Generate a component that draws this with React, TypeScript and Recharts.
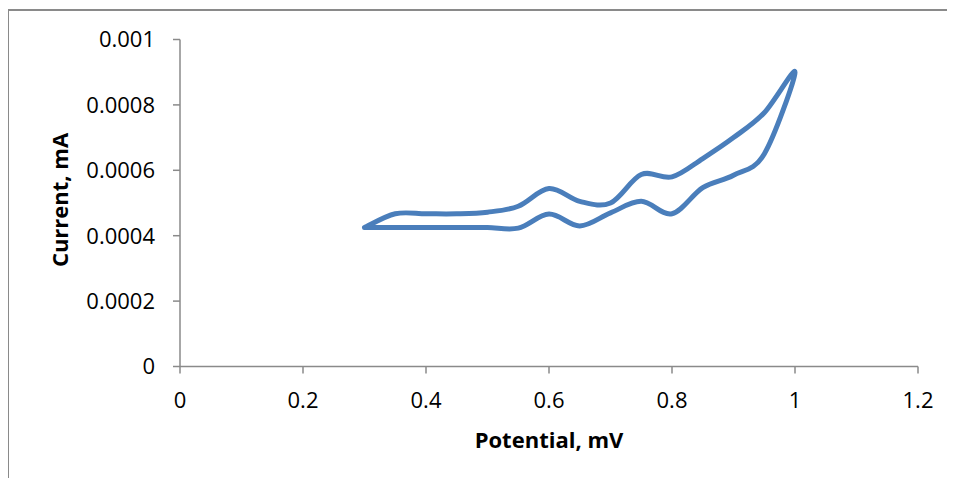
import { CartesianGrid, Label, Line, LineChart, XAxis, YAxis } from "recharts"

// forward sweep 0.3 -> 1.0, then reverse sweep back to 0.3
const potential = [
  0.3, 0.35, 0.4, 0.45, 0.5, 0.55, 0.6, 0.65, 0.7, 0.75, 0.8, 0.85, 0.9, 0.95, 1.0,
  0.95, 0.9, 0.85, 0.8, 0.75, 0.7, 0.65, 0.6, 0.55, 0.5, 0.45, 0.4, 0.35, 0.3,
]
const current = [
  0.000425, 0.000425, 0.000425, 0.000425, 0.000425, 0.000423, 0.000466, 0.00043, 0.00047, 0.000505,
  0.000467, 0.000547, 0.000585, 0.00065, 0.0009,
  0.000776, 0.0007, 0.000636, 0.00058, 0.000587, 0.0005, 0.000505, 0.000544, 0.00049, 0.000472,
  0.000467, 0.000467, 0.000467, 0.000425,
]

const xTicks = [0, 0.2, 0.4, 0.6, 0.8, 1, 1.2]
const yTicks = [0, 0.0002, 0.0004, 0.0006, 0.0008, 0.001]

const data = potential.map((p, i) => ({ potential: p, current: current[i] }))

const FONT = "'Open Sans', sans-serif"
const AXIS = "#8a8a8a"

// Excel-like smoothed scatter line (Catmull-Rom through every point)
function excelSmooth(context: any) {
  let pts: number[][] = []
  return {
    areaStart() {},
    areaEnd() {},
    lineStart() {
      pts = []
    },
    point(x: number, y: number) {
      pts.push([+x, +y])
    },
    lineEnd() {
      const n = pts.length
      if (!n) return
      context.moveTo(pts[0][0], pts[0][1])
      for (let i = 0; i < n - 1; i++) {
        const p0 = pts[Math.max(i - 1, 0)]
        const p1 = pts[i]
        const p2 = pts[i + 1]
        const p3 = pts[Math.min(i + 2, n - 1)]
        context.bezierCurveTo(
          p1[0] + (p2[0] - p0[0]) / 6,
          p1[1] + (p2[1] - p0[1]) / 6,
          p2[0] - (p3[0] - p1[0]) / 6,
          p2[1] - (p3[1] - p1[1]) / 6,
          p2[0],
          p2[1],
        )
      }
    },
  }
}

const formatY = (v: number) => (v === 0 ? "0" : String(Number(v.toFixed(4))))

export default function App() {
  return (
    <div style={{ position: "relative", width: 947, height: 470 }}>
      <style>{`body{overflow:hidden}`}</style>
      <div
        style={{
          position: "absolute",
          left: -1,
          top: 1,
          width: 946,
          height: 475,
          borderTop: `2px solid ${AXIS}`,
          borderLeft: `2px solid ${AXIS}`,
          borderRight: "none",
          borderBottom: "none",
        }}
      />
      <LineChart
        width={947}
        height={478}
        data={data}
        margin={{ top: 31.5, right: 37, bottom: 19.5, left: 72 }}
        style={{ position: "absolute", left: 0, top: 0 }}
      >
        <CartesianGrid stroke="none" />
        <XAxis
          dataKey="potential"
          type="number"
          domain={[0, 1.2]}
          ticks={xTicks}
          height={100}
          tickSize={7}
          tickMargin={19}
          stroke={AXIS}
          strokeWidth={1.5}
          tick={{ fill: "#000", fontSize: 22, fontFamily: FONT }}
          tickFormatter={(v: number) => String(v)}
        >
          <Label
            content={(props: any) => {
              const vb = props.viewBox
              return (
                <text
                  x={vb.x + vb.width / 2}
                  y={vb.y + 81.5}
                  textAnchor="middle"
                  fontFamily={FONT}
                  fontWeight="bold"
                  fontSize={22}
                  fill="#000"
                >
                  Potential, mV
                </text>
              )
            }}
          />
        </XAxis>
        <YAxis
          dataKey="current"
          type="number"
          domain={[0, 0.001]}
          ticks={yTicks}
          width={100}
          tickSize={7}
          tickMargin={18}
          stroke={AXIS}
          strokeWidth={1.5}
          tick={{ fill: "#000", fontSize: 22, fontFamily: FONT }}
          tickFormatter={formatY}
        >
          <Label
            content={(props: any) => {
              const vb = props.viewBox
              const x = vb.x - 12
              const y = vb.y + vb.height / 2 - 3
              return (
                <text
                  x={x}
                  y={y}
                  transform={`rotate(-90 ${x} ${y})`}
                  textAnchor="middle"
                  fontFamily={FONT}
                  fontWeight="bold"
                  fontSize={22}
                  fill="#000"
                >
                  Current, mA
                </text>
              )
            }}
          />
        </YAxis>
        <Line
          dataKey="current"
          type={excelSmooth as any}
          stroke="#4a7ebb"
          strokeWidth={5}
          strokeLinejoin="round"
          strokeLinecap="round"
          dot={false}
          activeDot={false}
          isAnimationActive={false}
        />
      </LineChart>
    </div>
  )
}
